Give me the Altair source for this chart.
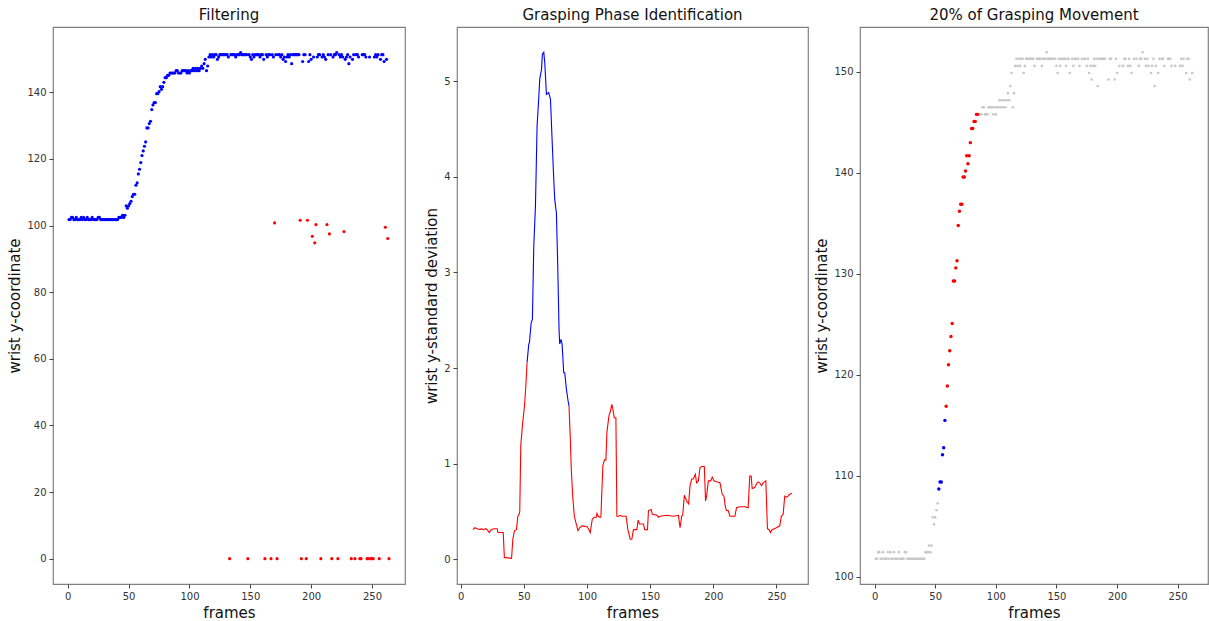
import altair as alt
import pandas as pd

# ---------------- data ----------------
# raw wrist y-coordinate for frames 1..264 (outliers included)
wrist_y = [
    101.8, 101.8, 102.45, 102.45, 101.8, 101.8, 102.45, 101.8, 101.8, 101.8,   # 1-10
    102.45, 101.8, 102.45, 101.8, 101.8, 102.45, 101.8, 101.8, 101.8, 102.45,  # 11-20
    101.8, 101.8, 101.8, 101.8, 102.45, 102.45, 101.8, 101.8, 101.8, 101.8,    # 21-30
    101.8, 101.8, 101.8, 101.8, 101.8, 101.8, 101.8, 101.8, 101.8, 101.8,      # 31-40
    101.8, 102.45, 102.45, 102.45, 103.1, 102.45, 103.1, 105.9, 105.2, 105.9,  # 41-50
    106.6, 107.3, 108.7, 109.4, 109.4, 112.1, 112.8, 115.5, 116.9, 118.9,      # 51-60
    121.0, 122.4, 123.8, 125.1, 129.3, 129.3, 130.6, 131.3, 134.8, 136.2,      # 61-70
    136.9, 136.9, 139.6, 139.6, 140.2, 141.7, 140.9, 141.7, 143.0, 144.4,      # 71-80
    144.4, 145.1, 145.1, 145.8, 145.8, 145.8, 145.8, 145.8, 146.5, 146.5,      # 81-90
    145.8, 145.8, 145.8, 146.5, 146.5, 146.5, 146.5, 145.8, 146.5, 145.8,      # 91-100
    146.5, 146.5, 147.2, 146.5, 147.2, 146.5, 147.2, 146.5, 147.2, 147.9,      # 101-110
    147.2, 148.6, 149.9, 146.5, 147.9, 150.6, 151.3, 150.6, 151.3, 150.6,      # 111-120
    151.3, 151.3, 149.9, 150.6, 151.3, 151.3, 151.3, 151.3, 151.3, 151.3,      # 121-130
    151.3, 150.6, 0.0, 151.3, 151.3, 151.3, 151.3, 150.6, 151.3, 151.3,        # 131-140
    151.3, 151.95, 151.3, 151.3, 151.3, 151.3, 151.3, 0.0, 151.3, 150.6,       # 141-150
    149.9, 151.3, 150.6, 151.3, 151.3, 151.3, 151.3, 150.6, 151.3, 151.3,      # 151-160
    149.9, 0.0, 151.3, 150.6, 151.3, 151.3, 0.0, 151.3, 150.6, 100.8,          # 161-170
    151.3, 0.0, 151.3, 151.3, 150.6, 151.3, 149.9, 150.6, 149.25, 150.6,       # 171-180
    151.3, 150.6, 151.3, 148.6, 151.3, 151.3, 151.3, 151.3, 151.3, 151.3,      # 181-190
    101.6, 0.0, 149.25, 151.3, 151.3, 0.0, 101.6, 149.25, 151.3, 149.9,        # 191-200
    96.8, 150.6, 94.8, 100.3, 150.6, 151.3, 151.3, 0.0, 150.6, 151.3,          # 201-210
    150.6, 149.9, 100.3, 151.3, 97.5, 151.3, 0.0, 150.6, 151.3, 151.3,         # 211-220
    151.95, 0.0, 151.3, 150.6, 151.3, 150.6, 98.2, 149.9, 150.6, 151.3,        # 221-230
    148.6, 150.6, 0.0, 149.9, 151.3, 0.0, 151.3, 151.3, 150.6, 0.0,            # 231-240
    0.0, 151.3, 151.3, 151.3, 150.6, 0.0, 0.0, 150.6, 0.0, 0.0,                # 241-250
    0.0, 150.6, 151.3, 150.6, 151.3, 0.0, 149.9, 151.3, 151.3, 149.25,         # 251-260
    99.5, 149.9, 96.1, 0.0,                                                    # 261-264
]
outlier_frames = [133, 148, 162, 167, 170, 172, 191, 192, 196, 197, 201, 203,
                  204, 208, 213, 215, 217, 222, 227, 233, 236, 240, 241, 246,
                  247, 249, 250, 251, 256, 261, 263, 264]

# wrist y standard deviation (frame, value)
std_points = [
    (9.7, 0.31), (11.3, 0.33), (13.2, 0.32), (15.3, 0.31), (16.3, 0.32), (17.9, 0.31),
    (19.7, 0.32), (21.0, 0.31), (22.6, 0.28), (24.2, 0.31), (26.3, 0.32), (28.9, 0.32),
    (29.5, 0.28), (33.7, 0.28), (34.6, 0.02), (37.5, 0.015), (40.3, 0.01), (41.3, 0.21),
    (42.6, 0.30), (44.2, 0.31), (45.3, 0.45), (46.3, 0.47), (46.8, 0.50), (47.6, 1.19),
    (48.9, 1.40), (50.5, 1.60), (51.6, 1.81), (52.6, 2.06), (53.9, 2.25), (54.5, 2.27),
    (55.8, 2.47), (56.8, 2.51), (57.9, 3.28), (59.2, 3.69), (60.5, 4.53), (61.9, 4.84),
    (62.6, 5.02), (64.0, 5.12), (64.7, 5.28), (65.8, 5.30), (66.6, 5.19), (67.9, 4.86),
    (69.7, 4.88), (71.1, 4.81), (72.6, 4.32), (73.7, 3.97), (74.5, 3.76), (75.8, 3.62),
    (76.8, 3.10), (77.9, 2.40), (78.4, 2.25), (79.5, 2.30), (80.3, 2.25), (81.6, 1.95),
    (82.4, 1.95), (83.7, 1.78), (85.0, 1.66), (85.8, 1.60), (86.8, 1.26), (87.6, 0.94),
    (88.7, 0.66), (90.0, 0.45), (91.3, 0.38), (92.9, 0.30), (94.2, 0.33), (96.1, 0.35),
    (100.0, 0.34), (101.6, 0.31), (102.6, 0.28), (104.2, 0.42), (105.8, 0.44), (107.4, 0.44),
    (107.9, 0.48), (108.9, 0.45), (110.0, 0.44), (111.0, 0.44), (112.6, 0.98), (113.9, 1.04),
    (115.0, 1.04), (115.8, 1.33), (117.4, 1.50), (118.4, 1.54), (119.7, 1.62), (120.5, 1.57),
    (121.6, 1.48), (122.9, 1.48), (123.7, 0.45), (125.0, 0.45), (126.3, 0.46), (127.6, 0.45),
    (129.5, 0.45), (131.0, 0.45), (132.4, 0.31), (134.2, 0.21), (135.5, 0.21), (136.8, 0.31),
    (139.5, 0.31), (140.5, 0.41), (141.6, 0.37), (144.7, 0.37), (145.8, 0.31), (147.9, 0.31),
    (148.7, 0.51), (150.8, 0.52), (151.8, 0.47), (155.3, 0.46), (156.6, 0.44), (157.9, 0.45),
    (163.2, 0.46), (168.4, 0.45), (172.4, 0.46), (173.7, 0.33), (175.0, 0.45), (175.8, 0.46),
    (177.1, 0.67), (178.9, 0.61), (180.5, 0.58), (181.6, 0.77), (182.9, 0.84), (184.2, 0.84),
    (185.8, 0.89), (186.8, 0.80), (188.2, 0.82), (189.5, 0.96), (191.0, 0.97), (192.9, 0.97),
    (193.9, 0.61), (194.7, 0.66), (196.1, 0.82), (197.9, 0.82), (199.2, 0.86), (200.5, 0.82),
    (202.6, 0.81), (205.3, 0.80), (207.1, 0.68), (208.4, 0.66), (209.7, 0.54), (210.5, 0.51),
    (211.8, 0.51), (213.2, 0.45), (217.1, 0.45), (218.4, 0.54), (221.0, 0.55), (225.0, 0.55),
    (227.6, 0.54), (228.9, 0.87), (230.0, 0.87), (230.8, 0.74), (232.9, 0.75), (234.2, 0.79),
    (235.5, 0.81), (236.8, 0.80), (238.2, 0.77), (239.5, 0.80), (241.6, 0.82), (242.9, 0.32),
    (244.2, 0.31), (245.3, 0.28), (246.6, 0.31), (250.0, 0.33), (252.6, 0.35), (253.9, 0.45),
    (255.3, 0.47), (256.6, 0.66), (257.9, 0.65), (259.2, 0.66), (260.5, 0.68), (262.4, 0.69),
]
grasp_start, grasp_end = 52.6, 85.8          # identified grasping phase (blue)
first_blue, last_blue = 53, 58               # panel 3 blue points
first_red, last_red = 59, 85                 # panel 3 red points (20% of movement)

x_ticks = [0, 50, 100, 150, 200, 250]
y1_ticks = [0, 20, 40, 60, 80, 100, 120, 140]
y2_ticks = [0, 1, 2, 3, 4, 5]
y3_ticks = [100, 110, 120, 130, 140, 150]

BLUE = "#0000ff"
RED = "#ff0000"
GRAY = "#c8c8c8"
FONT = "DejaVu Sans"

# ---------------- tables ----------------
frames = list(range(1, len(wrist_y) + 1))
raw = pd.DataFrame({"frame": frames, "y": wrist_y})
raw["status"] = ["outlier" if f in outlier_frames else "kept" for f in frames]
kept = raw[raw["status"] == "kept"].copy()


def phase3(f):
    if first_blue <= f <= last_blue:
        return "blue"
    if first_red <= f <= last_red:
        return "red"
    return "gray"


kept["p3"] = [phase3(f) for f in kept["frame"]]

rows = []
for f, v in std_points:
    if f <= grasp_start:
        rows.append({"frame": f, "std": v, "phase": "other", "seg": "a"})
    if grasp_start <= f <= grasp_end:
        rows.append({"frame": f, "std": v, "phase": "grasp", "seg": "b"})
    if f >= grasp_end:
        rows.append({"frame": f, "std": v, "phase": "other", "seg": "c"})
std_df = pd.DataFrame(rows)


def xaxis():
    return alt.Axis(values=x_ticks, title="frames")


# ---------------- panel 1 ----------------
p1 = alt.Chart(raw).mark_circle(size=10, opacity=1).encode(
    x=alt.X("frame:Q", scale=alt.Scale(domain=[-12.15, 277.15], nice=False, zero=False), axis=xaxis()),
    y=alt.Y("y:Q", scale=alt.Scale(domain=[-7.6, 159.6], nice=False, zero=False),
            axis=alt.Axis(values=y1_ticks, title="wrist y-coordinate")),
    color=alt.Color("status:N", scale=alt.Scale(domain=["kept", "outlier"], range=[BLUE, RED]), legend=None),
).properties(width=352, height=557, title="Filtering")

# ---------------- panel 2 ----------------
p2 = alt.Chart(std_df).mark_line(strokeWidth=1.1).encode(
    x=alt.X("frame:Q", scale=alt.Scale(domain=[-2.9, 275.0], nice=False, zero=False), axis=xaxis()),
    y=alt.Y("std:Q", scale=alt.Scale(domain=[-0.258, 5.565], nice=False, zero=False),
            axis=alt.Axis(values=y2_ticks, title="wrist y-standard deviation")),
    color=alt.Color("phase:N", scale=alt.Scale(domain=["other", "grasp"], range=[RED, BLUE]), legend=None),
    detail="seg:N",
    order="frame:Q",
).properties(width=351, height=557, title="Grasping Phase Identification")

# ---------------- panel 3 ----------------
x3 = alt.X("frame:Q", scale=alt.Scale(domain=[-12.05, 275.05], nice=False, zero=False), axis=xaxis())
y3 = alt.Y("y:Q", scale=alt.Scale(domain=[99.3, 154.45], nice=False, zero=False),
           axis=alt.Axis(values=y3_ticks, title="wrist y-coordinate"))
gray_layer = alt.Chart(kept).mark_circle(size=7, opacity=1, color=GRAY).encode(x=x3, y=y3)
col_layer = alt.Chart(kept).transform_filter(alt.datum.p3 != "gray").mark_circle(size=12, opacity=1).encode(
    x=x3, y=y3,
    color=alt.Color("p3:N", scale=alt.Scale(domain=["blue", "red"], range=[BLUE, RED]), legend=None),
)
p3 = alt.layer(gray_layer, col_layer).properties(width=348, height=557, title="20% of Grasping Movement")

chart = alt.hconcat(p1, p2, p3, spacing=52, bounds="flush").resolve_scale(color="independent").properties(
    padding={"left": 7, "top": 7, "right": 0, "bottom": 2}
).configure_view(stroke="#808080", strokeWidth=1.2).configure_axis(
    grid=False, domain=False, tickSize=4, tickColor="#444", tickWidth=1,
    labelFont=FONT, labelFontSize=10, labelColor="#333", labelPadding=3,
    titleFont=FONT, titleFontSize=15, titleFontWeight="normal", titleColor="#111", titlePadding=4,
).configure_title(font=FONT, fontSize=15, fontWeight="normal", color="#111", offset=4)

chart.save("out.html", embed_options={"renderer": "svg", "actions": False})
